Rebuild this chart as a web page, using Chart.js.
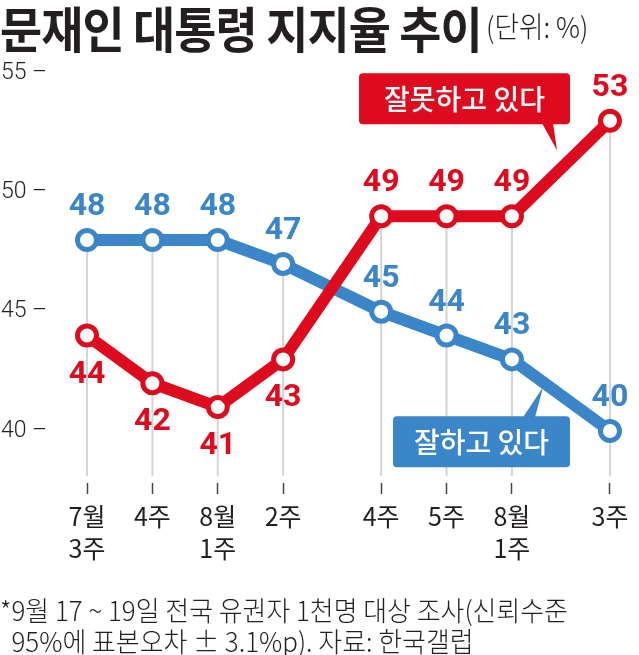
<!DOCTYPE html>
<html><head><meta charset="utf-8">
<script src="https://cdn.jsdelivr.net/npm/chart.js@4"></script>
<style>
html,body{margin:0;padding:0;background:#fff;}
#wrap{position:relative;width:639px;height:655px;overflow:hidden;background:#fff;}
#c{position:absolute;left:0;top:0;}
.title{position:absolute;left:0;top:-9px;font-family:"Noto Sans CJK KR";font-weight:700;font-size:49px;color:#231f20;transform:scaleX(0.935);transform-origin:0 0;white-space:nowrap;letter-spacing:-1px;}
.unit{position:absolute;left:486px;top:4px;font-family:"Noto Sans CJK KR";font-weight:300;font-size:29px;color:#231f20;transform:scaleX(0.92);transform-origin:0 0;white-space:nowrap;}
.note{position:absolute;left:0;top:594px;font-family:"Noto Sans CJK KR";font-weight:300;font-size:27px;line-height:31px;color:#231f20;white-space:nowrap;transform:scaleX(0.96);transform-origin:0 0;}
</style></head>
<body>
<div id="wrap">
<canvas id="c" width="639" height="655"></canvas>
<div class="title">문재인 대통령 지지율 추이</div>
<div class="unit">(단위: %)</div>
<div class="note">*9월 17 ~ 19일 전국 유권자 1천명 대상 조사(신뢰수준<br>&nbsp;&nbsp;95%에 표본오차 ± 3.1%p). 자료: 한국갤럽</div>
</div>
<script>
const categories = [['7월','3주'],'4주',['8월','1주'],'2주','4주','5주',['8월','1주'],'3주'];
const weekIndex = [0,1,2,3,5,6,7,9];
const approve = [48,48,48,47,45,44,43,40];      // 잘하고 있다
const disapprove = [44,42,41,43,49,49,49,53];   // 잘못하고 있다
const yTicks = [40,45,50,55];
const approveLabel = '잘하고 있다';
const disapproveLabel = '잘못하고 있다';

const RED = '#de0a1e';
const BLUE = '#3a86c8';

// skipped weeks are drawn as a half-width break on the axis
const skipped = [];
for (let w = weekIndex[0]; w <= weekIndex[weekIndex.length-1]; w++) if (!weekIndex.includes(w)) skipped.push(w);
const xs = weekIndex.map(w => w - 0.5 * skipped.filter(s => s < w).length);

const pts = arr => arr.map((v,i) => ({x: xs[i], y: v}));

const guideLines = {
  id:'guideLines',
  beforeDatasetsDraw(chart){
    const {ctx, chartArea} = chart;
    const m0 = chart.getDatasetMeta(0), m1 = chart.getDatasetMeta(1);
    ctx.save();
    ctx.strokeStyle = '#d4d4d4';
    ctx.lineWidth = 2;
    m0.data.forEach((p,i) => {
      const top = Math.min(p.y, m1.data[i].y);
      ctx.beginPath();
      ctx.moveTo(p.x, top);
      ctx.lineTo(p.x, chartArea.bottom - 7);
      ctx.stroke();
    });
    ctx.restore();
  }
};

const valueLabels = {
  id:'valueLabels',
  afterDatasetsDraw(chart){
    const {ctx} = chart;
    const mR = chart.getDatasetMeta(0), mB = chart.getDatasetMeta(1);
    ctx.save();
    ctx.font = 'bold 32px Roboto';
    ctx.textAlign = 'center';
    ctx.textBaseline = 'middle';
    mB.data.forEach((p,i) => {
      ctx.fillStyle = BLUE;
      ctx.fillText(String(approve[i]), p.x, p.y - 33);
    });
    mR.data.forEach((p,i) => {
      ctx.fillStyle = RED;
      const above = disapprove[i] > approve[i];
      ctx.fillText(String(disapprove[i]), p.x, above ? p.y - 33 : p.y + 39);
    });

    // callouts anchored on the last segment of each series
    const callout = (meta, color, text, dir) => {
      const a = meta.data[meta.data.length-2], b = meta.data[meta.data.length-1];
      const t = 0.46;
      const lx = a.x + (b.x - a.x) * t, ly = a.y + (b.y - a.y) * t;
      let tip, box, base;
      if (dir < 0) { // box above the line
        tip = {x: lx, y: ly - 22};
        box = {l: tip.x - 198, r: tip.x + 13, t: tip.y - 77, b: tip.y - 26};
        base = [tip.x - 15, tip.x - 4, box.b];
      } else {
        tip = {x: lx - 14, y: ly - 5};
        box = {l: tip.x - 150, r: tip.x + 27, t: tip.y + 29, b: tip.y + 80};
        base = [tip.x - 20, tip.x - 8, box.t];
      }
      ctx.fillStyle = color;
      ctx.beginPath();
      ctx.roundRect(box.l, box.t, box.r - box.l, box.b - box.t, 4);
      ctx.fill();
      ctx.beginPath();
      ctx.moveTo(base[0], base[2] + (dir<0?-1:1));
      ctx.lineTo(tip.x, tip.y);
      ctx.lineTo(base[1], base[2] + (dir<0?-1:1));
      ctx.closePath();
      ctx.fill();
      ctx.fillStyle = '#fff';
      ctx.font = '500 28px "Noto Sans CJK KR"';
      ctx.textAlign = 'center';
      ctx.textBaseline = 'middle';
      ctx.fillText(text, (box.l + box.r)/2, (box.t + box.b)/2 + 1);
    };
    callout(mR, RED, disapproveLabel, -1);
    callout(mB, BLUE, approveLabel, 1);
    ctx.restore();
  }
};

const common = {
  borderWidth: 12,
  pointRadius: 9.5,
  pointHoverRadius: 9.5,
  pointBorderWidth: 5,
  pointBackgroundColor: '#fff',
  tension: 0,
  fill: false,
  clip: false
};

new Chart(document.getElementById('c'), {
  type: 'line',
  data: {
    datasets: [
      Object.assign({label: disapproveLabel, data: pts(disapprove), borderColor: RED, pointBorderColor: RED, order: 0}, common),
      Object.assign({label: approveLabel, data: pts(approve), borderColor: BLUE, pointBorderColor: BLUE, order: 1}, common)
    ]
  },
  options: {
    responsive: false,
    animation: false,
    events: [],
    layout: {autoPadding: false, padding: {top: 73, right: 0, left: 0, bottom: 0}},
    plugins: {legend: {display: false}, tooltip: {enabled: false}},
    scales: {
      x: {
        type: 'linear',
        min: xs[0] - 0.612,
        max: xs[xs.length-1] + 0.444,
        afterBuildTicks(s){ s.ticks = xs.map(v => ({value: v})); },
        afterFit(s){ s.height = 172; s.paddingLeft = 0; s.paddingRight = 0; },
        border: {display: false},
        grid: {drawOnChartArea: false, drawTicks: true, tickLength: 11, tickColor: '#444', tickWidth: 1.5},
        ticks: {
          autoSkip: false, maxRotation: 0, minRotation: 0, padding: 6,
          color: '#231f20',
          font: {family: '"Noto Sans CJK KR"', size: 25, weight: 400, lineHeight: 1.28},
          callback: (v) => { const i = xs.indexOf(v); return i >= 0 ? categories[i] : ''; }
        }
      },
      y: {
        min: 37.82,
        max: 55,
        afterBuildTicks(s){ s.ticks = yTicks.map(v => ({value: v})); },
        afterFit(s){ s.width = 47; s.paddingTop = 0; s.paddingBottom = 0; },
        border: {display: false},
        grid: {display: false, drawTicks: false},
        ticks: {
          padding: 0,
          color: '#231f20',
          font: {family: 'Roboto', size: 23, weight: 300},
          callback: v => v + ' –'
        }
      }
    }
  },
  plugins: [guideLines, valueLabels]
});
</script>
</body></html>
